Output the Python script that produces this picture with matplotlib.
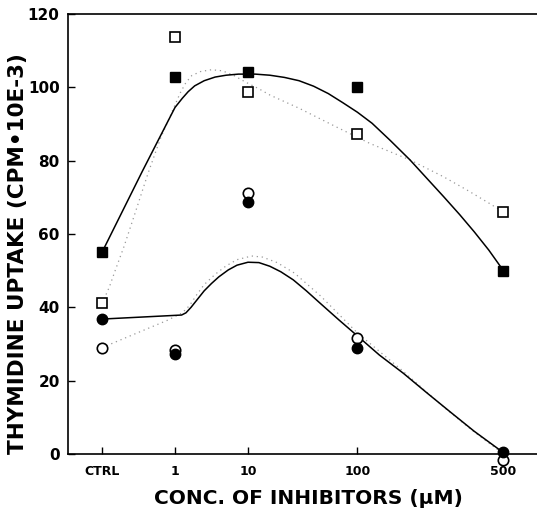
import numpy as np
import matplotlib
matplotlib.use('Agg')
import matplotlib.pyplot as plt

# x positions of the concentrations on the (non-uniform) axis
conc_labels = ['CTRL', '1', '10', '100', '500']
conc_pos = [0, 1, 2, 3.5, 5.5]

# measured points
sq_filled = [55, 102.8, 104.2, 100.2, 49.8]
sq_open = [41.3, 113.6, 98.8, 87.4, 66.0]
ci_filled = [36.9, 27.3, 68.8, 28.8, 0.5]
ci_open = [29.0, 28.5, 71.3, 31.7, -1.6]

# fitted curves
up_solid_x = [0, 0.55, 1.0, 1.1, 1.18, 1.27, 1.4, 1.55, 1.7, 1.87, 2.1, 2.3, 2.5, 2.7, 2.9,
              3.1, 3.3, 3.5, 3.7, 3.95, 4.22, 4.45, 4.68, 4.9, 5.1, 5.3, 5.5]
up_solid_y = [55, 77, 94.5, 97, 98.8, 100.4, 101.8, 102.8, 103.3, 103.6, 103.6, 103.3, 102.7, 101.8, 100.3,
              98.3, 95.8, 93.2, 90.2, 85.5, 80.2, 75.2, 70.2, 65.3, 60.6, 55.6, 50]
up_dot_x = [0, 0.1, 0.18, 0.3, 0.45, 0.63, 0.8, 0.95, 1.07, 1.15, 1.23, 1.35, 1.5, 1.65, 1.8, 1.96,
            2.15, 2.3, 2.7, 3.2, 3.67, 4.22, 4.68, 5.0, 5.27, 5.5]
up_dot_y = [41, 45.5, 50, 56.5, 65.5, 76.5, 86, 92.9, 98.4, 101.3, 103.2, 104.3, 104.8, 104.5, 103.3, 101.5,
            99.6, 97.9, 94.3, 89.3, 84.7, 80.2, 75.6, 72, 68.8, 66]
lo_solid_x = [0, 1.09, 1.15, 1.22, 1.3, 1.4, 1.5, 1.6, 1.73, 1.85, 2.0, 2.15, 2.3, 2.45, 2.62,
              2.8, 2.99, 3.25, 3.5, 3.8, 4.13, 4.45, 4.77, 5.1, 5.45, 5.5]
lo_solid_y = [36.8, 37.9, 38.5, 40.0, 42.0, 44.5, 46.5, 48.3, 50.2, 51.5, 52.3, 52.2, 51.2, 49.7, 47.5,
              44.5, 41.1, 36.5, 32.2, 27, 22.0, 16.7, 11.5, 6.2, 1.1, 0.5]
lo_dot_x = [0, 0.3, 0.6, 0.9, 1.1, 1.2, 1.3, 1.4, 1.55, 1.7, 1.85, 2.05, 2.2, 2.4, 2.64, 2.8,
            3.0, 3.25, 3.5, 4.1, 4.7, 5.1, 5.5]
lo_dot_y = [29, 31.5, 34, 36.5, 38.5, 40.5, 43.5, 46.2, 49, 51.3, 53, 54, 53.7, 52.2, 49.3, 46.5,
            43, 38, 33, 23, 12.5, 6, 0]

fig = plt.figure(figsize=(5.37, 5.14), dpi=100)
ax = fig.add_axes([0.1266, 0.1167, 0.8734, 0.8561])

dots = (0, (1, 3))
ax.plot(up_dot_x, up_dot_y, color='0.6', lw=0.9, ls=dots)
ax.plot(lo_dot_x, lo_dot_y, color='0.6', lw=0.9, ls=dots)
ax.plot(up_solid_x, up_solid_y, color='black', lw=1.1)
ax.plot(lo_solid_x, lo_solid_y, color='black', lw=1.1)

ms = 7.5
ax.plot(conc_pos, sq_open, 's', ms=ms, mfc='white', mec='black', mew=1.2, clip_on=False)
ax.plot(conc_pos, sq_filled, 's', ms=ms, mfc='black', mec='black', clip_on=False)
ax.plot(conc_pos, ci_open, 'o', ms=ms, mfc='white', mec='black', mew=1.2, clip_on=False, zorder=3)
ax.plot(conc_pos, ci_filled, 'o', ms=ms, mfc='black', mec='black', clip_on=False, zorder=4)

ax.set_xlim(-0.466, 5.96)
ax.set_ylim(0, 120)
ax.set_xticks(conc_pos)
ax.set_xticklabels(conc_labels)
ax.set_yticks(np.arange(0, 121, 20))
ax.tick_params(direction='in', length=5, width=1, pad=6)
ax.tick_params(axis='x', pad=8)
ax.spines['right'].set_visible(False)
for s in ['left', 'bottom', 'top']:
    ax.spines[s].set_linewidth(1.2)

for lab in ax.get_xticklabels():
    lab.set_fontfamily('DejaVu Sans')
    lab.set_fontweight('bold')
    lab.set_fontsize(9)
for lab in ax.get_yticklabels():
    lab.set_fontfamily('DejaVu Sans')
    lab.set_fontweight('bold')
    lab.set_fontsize(11)

fig.text(308/537, 1 - 498/514, 'CONC. OF INHIBITORS (\u03bcM)', ha='center', va='center',
         fontsize=14.5, fontweight='bold', family='DejaVu Sans')
fig.text(18/537, 1 - 254/514, 'THYMIDINE UPTAKE (CPM\u202210E-3)', ha='center', va='center',
         rotation=90, fontsize=15.5, fontweight='bold', family='DejaVu Sans')

fig.savefig('out.png', dpi=100)
